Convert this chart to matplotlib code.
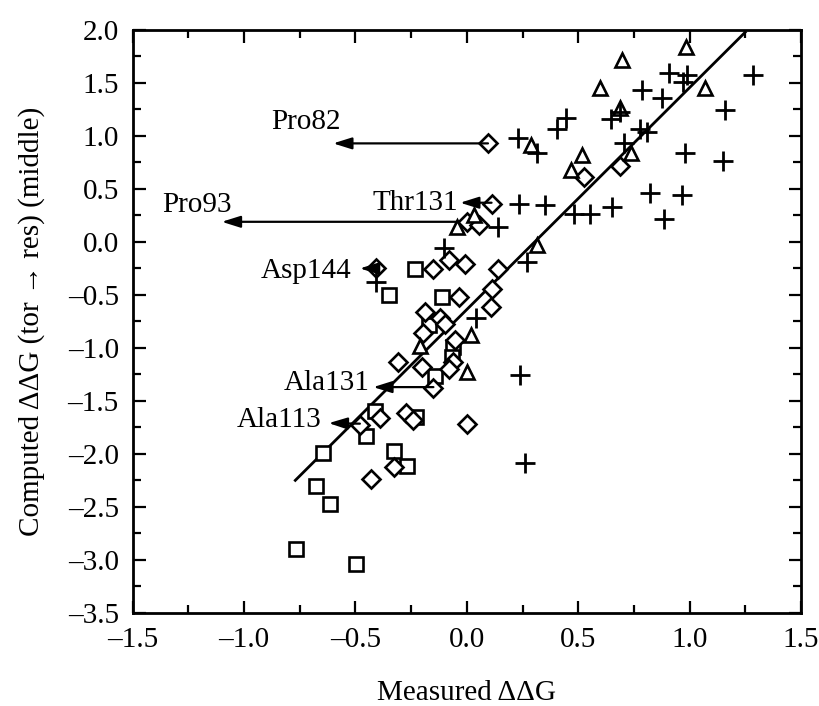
import matplotlib
matplotlib.use('Agg')
import matplotlib.pyplot as plt
from matplotlib.ticker import MultipleLocator, FuncFormatter

plt.rcParams['font.family'] = ['Liberation Serif', 'DejaVu Serif']
plt.rcParams['mathtext.fontset'] = 'stix'

# open diamonds
dia_x = [0.095, 0.687, 0.527, 0.111, 0.001, 0.054, -0.406, -0.154, -0.08, -0.009,
         0.14, 0.111, -0.036, 0.108, -0.19, -0.121, -0.10, -0.196, -0.054, -0.309,
         -0.202, -0.062, -0.08, -0.15, -0.388, -0.48, -0.271, -0.241, 0.001, -0.327,
         -0.428]
dia_y = [0.93, 0.72, 0.616, 0.36, 0.186, 0.16, -0.25, -0.258, -0.17, -0.21,
         -0.26, -0.44, -0.52, -0.61, -0.66, -0.72, -0.77, -0.86, -0.925, -1.13,
         -1.18, -1.13, -1.2, -1.38, -1.66, -1.73, -1.61, -1.68, -1.72, -2.12,
         -2.24]

# open squares
sq_x = [-0.234, -0.348, -0.111, -0.168, -0.062, -0.066, -0.144, -0.411, -0.228,
        -0.451, -0.645, -0.327, -0.268, -0.678, -0.615, -0.765, -0.496]
sq_y = [-0.255, -0.497, -0.522, -0.785, -0.995, -1.09, -1.265, -1.6, -1.648,
        -1.83, -1.99, -1.97, -2.11, -2.30, -2.47, -2.90, -3.04]

# open triangles
tri_x = [0.986, 0.697, 0.597, 1.068, 0.687, 0.287, 0.518, 0.739, 0.467, 0.317,
         -0.044, 0.031, 0.02, -0.211, 0.001]
tri_y = [1.84, 1.72, 1.45, 1.45, 1.26, 0.915, 0.82, 0.837, 0.68, -0.03,
         0.144, 0.255, -0.88, -0.98, -1.225]

# plus signs
pl_x = [0.907, 0.99, 0.971, 1.285, 0.787, 0.874, 1.158, 0.687, 0.649, 0.447,
        0.407, 0.777, 0.81, 0.23, 0.313, 0.706, 0.979, 1.148, 0.822, 0.968,
        0.886, 0.235, 0.35, 0.482, 0.552, 0.65, 0.14, 0.268, -0.104, -0.409,
        0.043, 0.238, 0.26]
pl_y = [1.59, 1.575, 1.51, 1.575, 1.43, 1.355, 1.245, 1.23, 1.16, 1.17,
        1.07, 1.07, 1.04, 0.98, 0.84, 0.93, 0.837, 0.76, 0.46, 0.44,
        0.217, 0.36, 0.35, 0.26, 0.26, 0.33, 0.14, -0.186, -0.06, -0.38,
        -0.715, -1.255, -2.09]

# fitted line end points
fit_x = [-0.77, 1.25]
fit_y = [-2.25, 1.98]

# labelled outliers: name, arrow start, arrow tip, text position, alignment
labels = ['Pro82', 'Pro93', 'Thr131', 'Asp144', 'Ala131', 'Ala113']
arrow_from = [(0.095, 0.93), (-0.035, 0.19), (0.111, 0.37), (-0.43, -0.25),
              (-0.15, -1.37), (-0.48, -1.715)]
arrow_to = [(-0.60, 0.93), (-1.10, 0.19), (-0.03, 0.37), (-0.48, -0.25),
            (-0.42, -1.37), (-0.62, -1.71)]
text_pos = [(-0.72, 1.13), (-1.21, 0.35), (-0.04, 0.37), (-0.52, -0.27),
            (-0.436, -1.33), (-0.653, -1.68)]
text_ha = ['center', 'center', 'right', 'right', 'right', 'right']

fig = plt.figure(figsize=(8.19, 7.06), dpi=100)
ax = fig.add_axes([0.162, 0.132, 0.816, 0.8255])

mk = dict(linestyle='none', markerfacecolor='white', markeredgecolor='k',
          markeredgewidth=1.9, color='k')
ax.plot(fit_x, fit_y, color='k', lw=2, zorder=1)
ax.plot(sq_x, sq_y, marker='s', markersize=9.5, **mk)
ax.plot(dia_x, dia_y, marker='D', markersize=9, **mk)
ax.plot(tri_x, tri_y, marker='^', markersize=10.5, **mk)
ax.plot(pl_x, pl_y, marker='+', markersize=15, linestyle='none', color='k',
        markeredgewidth=2)

for name, a, b, t, ha in zip(labels, arrow_from, arrow_to, text_pos, text_ha):
    ax.annotate('', xy=b, xytext=a,
                arrowprops=dict(arrowstyle='-|>,head_length=0.7,head_width=0.22',
                                color='k', lw=1.6, shrinkA=0, shrinkB=0,
                                mutation_scale=16))
    ax.text(t[0], t[1], name, ha=ha, va='center', fontsize=21)

ax.set_xlim(-1.5, 1.5)
ax.set_ylim(-3.5, 2.0)
ax.xaxis.set_major_locator(MultipleLocator(0.5))
ax.xaxis.set_minor_locator(MultipleLocator(0.25))
ax.yaxis.set_major_locator(MultipleLocator(0.5))
ax.yaxis.set_minor_locator(MultipleLocator(0.25))
fmt = FuncFormatter(lambda v, p: ('%.1f' % v).replace('-', '\u2013'))
ax.xaxis.set_major_formatter(fmt)
ax.yaxis.set_major_formatter(fmt)
ax.tick_params(which='both', direction='in', top=True, right=True, width=1.6,
               labelsize=21)
ax.tick_params(which='major', length=9, pad=10)
ax.tick_params(which='minor', length=6)
for s in ax.spines.values():
    s.set_linewidth(2)

ax.set_xlabel('Measured \u0394\u0394G', fontsize=21, labelpad=20)
ax.set_ylabel('Computed \u0394\u0394G (tor \u2192 res) (middle)', fontsize=21,
              labelpad=16)

fig.savefig('out.png', dpi=100)
